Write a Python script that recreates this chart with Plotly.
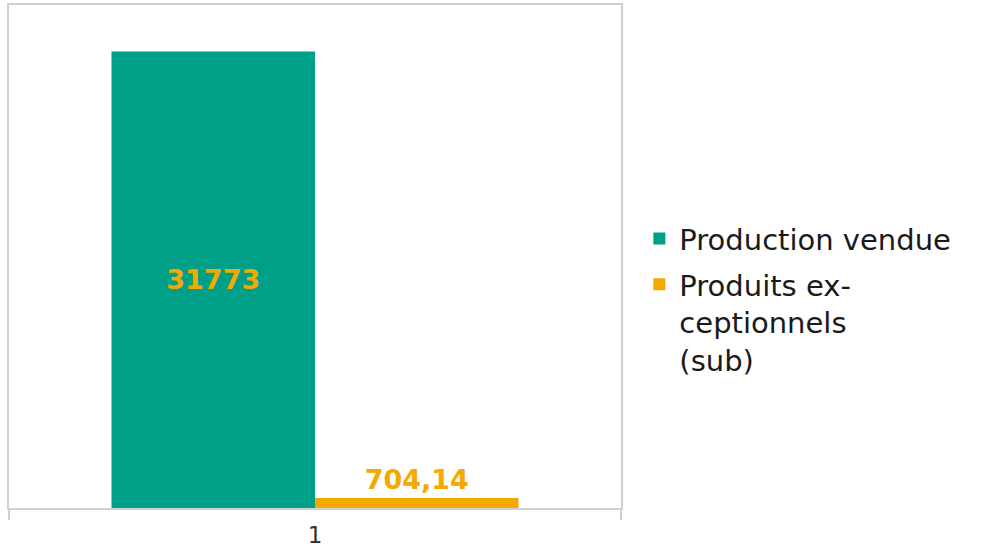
import plotly.graph_objects as go

categories = ["1"]
series_names = ["Production vendue", "Produits ex-<br>ceptionnels<br>(sub)"]
production_vendue = [31773]
produits_exceptionnels = [704.14]
colors = ["#00A088", "#F5A800"]

def fmt(v):
    s = f"{v:g}"
    return s.replace(".", ",")

FONT = "DejaVu Sans"

fig = go.Figure()
fig.add_trace(go.Bar(
    x=categories, y=production_vendue, name=series_names[0], legendgroup="a",
    marker=dict(color=colors[0], line=dict(width=0)),
    text=[fmt(v) for v in production_vendue],
    textposition="inside", insidetextanchor="middle",
    textfont=dict(family=FONT, size=27, color=colors[1], weight="bold"),
    textangle=0, cliponaxis=False,
))
fig.add_trace(go.Bar(
    x=categories, y=produits_exceptionnels, name=series_names[1], legendgroup="b",
    marker=dict(color=colors[1], line=dict(width=0)),
    text=[fmt(v) for v in produits_exceptionnels],
    textposition="outside",
    textfont=dict(family=FONT, size=27, color=colors[1], weight="bold"),
    textangle=0, cliponaxis=False,
))

fig.update_layout(
    width=988, height=551,
    margin=dict(l=9, r=367, t=5, b=43),
    paper_bgcolor="white", plot_bgcolor="white",
    barmode="group", bargap=0.335, bargroupgap=0,
    font=dict(family=FONT, color="#222222"),
    showlegend=True,
    legend=dict(
        x=1.03, xanchor="left", y=0.586, yanchor="top",
        font=dict(family=FONT, size=29, color="#1a1a1a"),
        valign="top", traceorder="grouped", tracegroupgap=5, bgcolor="rgba(0,0,0,0)",
    ),
    xaxis=dict(
        type="category", showline=True, mirror=True, linecolor="#d0d0d0", linewidth=2,
        ticks="outside", tickson="boundaries", ticklen=10, tickcolor="#d0d0d0", tickwidth=2,
        ticklabelstandoff=5, automargin=False,
        tickfont=dict(family=FONT, size=23, color="#333333"),
        showgrid=False, zeroline=False, fixedrange=True,
    ),
    yaxis=dict(
        range=[0, 35000], showline=True, mirror=True, linecolor="#d0d0d0", linewidth=2,
        automargin=False,
        showticklabels=False, ticks="", showgrid=False, zeroline=False, fixedrange=True,
    ),
)

post = """
document.body.style.margin = '0';
document.body.style.overflow = 'hidden';
"""

fig.write_html("out.html", post_script=post, config={"displayModeBar": False})
